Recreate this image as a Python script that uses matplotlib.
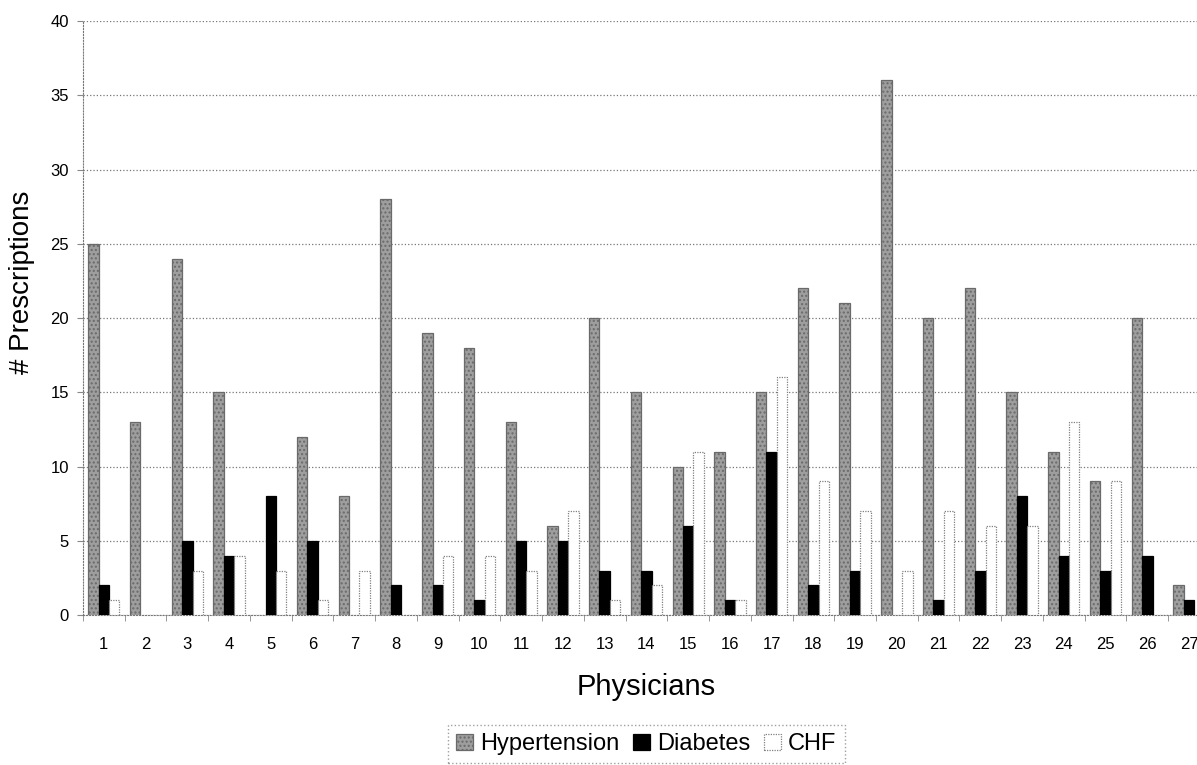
import matplotlib.pyplot as plt
import numpy as np

physicians = [str(i) for i in range(1, 28)]
hypertension = [25, 13, 24, 15, 0, 12, 8, 28, 19, 18, 13, 6, 20, 15, 10, 11, 15, 22, 21, 36, 20, 22, 15, 11, 9, 20, 2]
diabetes = [2, 0, 5, 4, 8, 5, 0, 2, 2, 1, 5, 5, 3, 3, 6, 1, 11, 2, 3, 0, 1, 3, 8, 4, 3, 4, 1]
chf = [1, 0, 3, 4, 3, 1, 3, 0, 4, 4, 3, 7, 1, 2, 11, 1, 16, 9, 7, 3, 7, 6, 6, 13, 9, 0, 0]

plt.rcParams['font.family'] = ['Liberation Sans', 'DejaVu Sans']
plt.rcParams['hatch.color'] = '#666666'

fig = plt.figure(figsize=(11.97, 7.65), dpi=100)
# plot area runs past the right edge, as in the original scan
ax = fig.add_axes([0.0693, 0.196, 0.9415, 0.7765])

x = np.arange(len(physicians))
w = 0.25

def edges(vals, col):
    # no outline for empty bars
    return [col if v else 'none' for v in vals]

ax.bar(x - w, hypertension, w, color='#9e9e9e', edgecolor=edges(hypertension, '#6a6a6a'),
       linewidth=0.9, hatch='....', label='Hypertension', zorder=3)
ax.bar(x, diabetes, w, color='black', edgecolor=edges(diabetes, 'black'), linewidth=0.9,
       label='Diabetes', zorder=3)
ax.bar(x + w, chf, w, color='white', edgecolor=edges(chf, '#808080'), linewidth=0.9,
       linestyle=(0, (1, 1)), label='CHF', zorder=3)

ax.set_xlim(-0.5, len(physicians) - 0.5)
ax.set_ylim(0, 40)
ax.set_yticks(range(0, 41, 5))
ax.set_xticks(x)
ax.set_xticklabels(physicians)
ax.set_xticks(np.arange(-0.5, len(physicians)), minor=True)
ax.tick_params(axis='x', which='major', length=0, labelsize=12, pad=16)
ax.tick_params(axis='x', which='minor', length=4, color='#888888')
ax.tick_params(axis='y', length=4, color='#888888', labelsize=12, pad=6)

ax.grid(axis='y', linestyle=':', color='#777777', linewidth=0.9, zorder=0)
for s in ['top', 'right']:
    ax.spines[s].set_visible(False)
ax.spines['left'].set_linestyle(':')
ax.spines['left'].set_color('#777777')
ax.spines['bottom'].set_linestyle(':')
ax.spines['bottom'].set_color('#777777')

ax.set_xlabel('Physicians', fontsize=21)
ax.xaxis.set_label_coords(0.5, -0.121)
ax.xaxis.label.set_va('center')
ax.set_ylabel('# Prescriptions', fontsize=20)
ax.yaxis.set_label_coords(-0.054, 0.56)
ax.yaxis.label.set_va('center')

leg = ax.legend(loc='upper center', bbox_to_anchor=(0.5, -0.185), ncol=3, frameon=True,
                fancybox=False, edgecolor='#888888', fontsize=17, handlelength=0.7,
                handleheight=0.7, handletextpad=0.3, columnspacing=0.6, borderpad=0.35,
                borderaxespad=0)
leg.get_frame().set_linestyle(':')

fig.savefig('out.png', dpi=100)
